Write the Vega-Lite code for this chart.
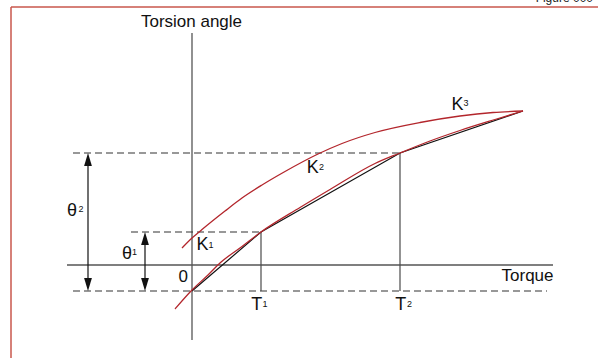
{
  "$schema": "https://vega.github.io/schema/vega-lite/v6.json",
  "width": 598,
  "height": 358,
  "autosize": {"type": "none"},
  "padding": 0,
  "background": "white",
  "config": {"view": {"stroke": null}, "text": {"font": "Liberation Sans"}},
  "datasets": {
    "frame": [
      {"x": -181, "y": 258, "x2": 406, "y2": 258},
      {"x": -181, "y": 258, "x2": -181, "y2": -93}
    ],
    "axes": [
      {"x": 0, "y": 232, "x2": 0, "y2": -75},
      {"x": -125, "y": 0, "x2": 361, "y2": 0}
    ],
    "dashes": [
      {"x": -119, "y": -26, "x2": 355, "y2": -26},
      {"x": -61, "y": 33, "x2": 69, "y2": 33},
      {"x": -119, "y": 112, "x2": 208, "y2": 112}
    ],
    "tlines": [
      {"x": 69, "y": 33, "x2": 69, "y2": -26, "name": "T1"},
      {"x": 208, "y": 112, "x2": 208, "y2": -26, "name": "T2"}
    ],
    "shafts": [
      {"x": -104, "y": 106, "x2": -104, "y2": -20},
      {"x": -47, "y": 27, "x2": -47, "y2": -20}
    ],
    "heads": [
      {"x": -104, "y": 112, "dir": "up"},
      {"x": -104, "y": -26, "dir": "down"},
      {"x": -47, "y": 33, "dir": "up"},
      {"x": -47, "y": -26, "dir": "down"}
    ],
    "secant": [
      {"x": 0, "y": -26},
      {"x": 69, "y": 33},
      {"x": 208, "y": 112},
      {"x": 331, "y": 154}
    ],
    "curves": [
      {"curve": "loading", "x": -17, "y": -44},
      {"curve": "loading", "x": 0, "y": -25},
      {"curve": "loading", "x": 16, "y": -10},
      {"curve": "loading", "x": 28, "y": 2},
      {"curve": "loading", "x": 50, "y": 18.5},
      {"curve": "loading", "x": 69, "y": 33},
      {"curve": "loading", "x": 108, "y": 57.5},
      {"curve": "loading", "x": 138, "y": 75.5},
      {"curve": "loading", "x": 183, "y": 101.5},
      {"curve": "loading", "x": 208, "y": 112},
      {"curve": "loading", "x": 238, "y": 124},
      {"curve": "loading", "x": 268, "y": 134.5},
      {"curve": "loading", "x": 303, "y": 145.5},
      {"curve": "loading", "x": 331, "y": 154},
      {"curve": "unloading", "x": -10, "y": 17},
      {"curve": "unloading", "x": 0, "y": 27},
      {"curve": "unloading", "x": 10, "y": 35.5},
      {"curve": "unloading", "x": 33, "y": 54},
      {"curve": "unloading", "x": 50, "y": 67},
      {"curve": "unloading", "x": 70, "y": 80},
      {"curve": "unloading", "x": 93, "y": 93.5},
      {"curve": "unloading", "x": 126, "y": 111},
      {"curve": "unloading", "x": 150, "y": 121.5},
      {"curve": "unloading", "x": 183, "y": 132.5},
      {"curve": "unloading", "x": 228, "y": 142.5},
      {"curve": "unloading", "x": 268, "y": 149},
      {"curve": "unloading", "x": 301, "y": 152.5},
      {"curve": "unloading", "x": 331, "y": 154}
    ],
    "mainLabels": [
      {"text": "K", "x": 4.4, "y": 15},
      {"text": "K", "x": 114.8, "y": 92},
      {"text": "K", "x": 259.5, "y": 155},
      {"text": "θ", "x": -125, "y": 49},
      {"text": "θ", "x": -70, "y": 6},
      {"text": "T", "x": 59.3, "y": -45},
      {"text": "T", "x": 203.3, "y": -45}
    ],
    "digits": [
      {"text": "1", "x": 16.5, "y": 17},
      {"text": "2", "x": 127, "y": 95},
      {"text": "3", "x": 271.5, "y": 159},
      {"text": "2", "x": -113.5, "y": 53},
      {"text": "1", "x": -60, "y": 10},
      {"text": "1", "x": 70.5, "y": -41.5},
      {"text": "2", "x": 215, "y": -41.5}
    ],
    "rightLabels": [
      {"text": "0", "x": -4, "y": -17},
      {"text": "Torque", "x": 361.5, "y": -16}
    ],
    "centerLabels": [
      {"text": "Torsion angle", "x": -0.5, "y": 238.5}
    ],
    "header": [
      {"text": "Figure 000", "x": 401, "y": 263}
    ]
  },
  "layer": [
    {
      "data": {"name": "frame"},
      "mark": {"type": "rule", "color": "#c8574c", "strokeWidth": 1.5},
      "encoding": {
        "x": {"field": "x", "type": "quantitative", "scale": {"domain": [-192, 406], "nice": false, "zero": false}, "axis": null},
        "y": {"field": "y", "type": "quantitative", "scale": {"domain": [-93, 265], "nice": false, "zero": false}, "axis": null},
        "x2": {"field": "x2"},
        "y2": {"field": "y2"}
      }
    },
    {
      "data": {"name": "header"},
      "mark": {"type": "text", "align": "right", "baseline": "alphabetic", "fontSize": 12, "color": "#222"},
      "encoding": {
        "x": {"field": "x", "type": "quantitative", "axis": null},
        "y": {"field": "y", "type": "quantitative", "axis": null},
        "text": {"field": "text"}
      }
    },
    {
      "data": {"name": "axes"},
      "mark": {"type": "rule", "color": "#555555", "strokeWidth": 1.3},
      "encoding": {
        "x": {"field": "x", "type": "quantitative", "axis": null},
        "y": {"field": "y", "type": "quantitative", "axis": null},
        "x2": {"field": "x2"},
        "y2": {"field": "y2"}
      }
    },
    {
      "data": {"name": "dashes"},
      "mark": {"type": "rule", "color": "#333333", "strokeWidth": 1.1, "strokeDash": [7, 4]},
      "encoding": {
        "x": {"field": "x", "type": "quantitative", "axis": null},
        "y": {"field": "y", "type": "quantitative", "axis": null},
        "x2": {"field": "x2"},
        "y2": {"field": "y2"}
      }
    },
    {
      "data": {"name": "tlines"},
      "mark": {"type": "rule", "color": "#4a4a4a", "strokeWidth": 1.2},
      "encoding": {
        "x": {"field": "x", "type": "quantitative", "axis": null},
        "y": {"field": "y", "type": "quantitative", "axis": null},
        "x2": {"field": "x2"},
        "y2": {"field": "y2"}
      }
    },
    {
      "data": {"name": "shafts"},
      "mark": {"type": "rule", "color": "#111111", "strokeWidth": 1.2},
      "encoding": {
        "x": {"field": "x", "type": "quantitative", "axis": null},
        "y": {"field": "y", "type": "quantitative", "axis": null},
        "x2": {"field": "x2"},
        "y2": {"field": "y2"}
      }
    },
    {
      "data": {"name": "heads"},
      "mark": {"type": "point", "filled": true, "size": 169, "color": "#111111", "opacity": 1, "strokeWidth": 0},
      "encoding": {
        "x": {"field": "x", "type": "quantitative", "axis": null},
        "y": {"field": "y", "type": "quantitative", "axis": null},
        "shape": {"field": "dir", "type": "nominal", "scale": {"domain": ["up", "down"], "range": ["M0,0L-0.6,2L0.6,2Z", "M0,0L-0.6,-2L0.6,-2Z"]}, "legend": null}
      }
    },
    {
      "data": {"name": "secant"},
      "mark": {"type": "line", "color": "#111111", "strokeWidth": 1.2},
      "encoding": {
        "x": {"field": "x", "type": "quantitative", "axis": null},
        "y": {"field": "y", "type": "quantitative", "axis": null}
      }
    },
    {
      "data": {"name": "curves"},
      "mark": {"type": "line", "color": "#b3262c", "strokeWidth": 1.3, "interpolate": "monotone"},
      "encoding": {
        "x": {"field": "x", "type": "quantitative", "axis": null},
        "y": {"field": "y", "type": "quantitative", "axis": null},
        "detail": {"field": "curve", "type": "nominal"}
      }
    },
    {
      "data": {"name": "mainLabels"},
      "mark": {"type": "text", "align": "left", "baseline": "alphabetic", "fontSize": 18, "color": "#111111"},
      "encoding": {
        "x": {"field": "x", "type": "quantitative", "axis": null},
        "y": {"field": "y", "type": "quantitative", "axis": null},
        "text": {"field": "text"}
      }
    },
    {
      "data": {"name": "digits"},
      "mark": {"type": "text", "align": "left", "baseline": "alphabetic", "fontSize": 9, "color": "#111111"},
      "encoding": {
        "x": {"field": "x", "type": "quantitative", "axis": null},
        "y": {"field": "y", "type": "quantitative", "axis": null},
        "text": {"field": "text"}
      }
    },
    {
      "data": {"name": "rightLabels"},
      "mark": {"type": "text", "align": "right", "baseline": "alphabetic", "fontSize": 17, "color": "#111111"},
      "encoding": {
        "x": {"field": "x", "type": "quantitative", "axis": null},
        "y": {"field": "y", "type": "quantitative", "axis": null},
        "text": {"field": "text"}
      }
    },
    {
      "data": {"name": "centerLabels"},
      "mark": {"type": "text", "align": "center", "baseline": "alphabetic", "fontSize": 17, "color": "#111111"},
      "encoding": {
        "x": {"field": "x", "type": "quantitative", "axis": null},
        "y": {"field": "y", "type": "quantitative", "axis": null},
        "text": {"field": "text"}
      }
    }
  ]
}
